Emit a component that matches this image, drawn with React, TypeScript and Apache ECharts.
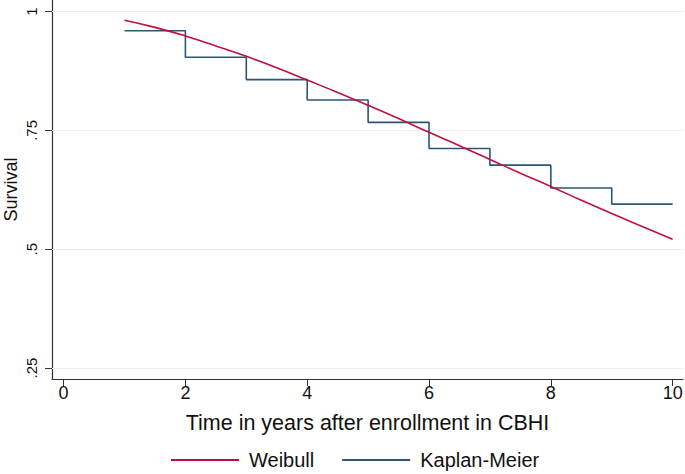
import React, { useEffect, useRef } from "react";
import * as echarts from "echarts";

const weibullTime = [1, 1.5, 2, 2.5, 3, 3.5, 4, 4.5, 5, 5.5, 6, 6.5, 7, 7.5, 8, 8.5, 9, 9.5, 10];
const weibullSurv = [0.982, 0.967, 0.949, 0.928, 0.906, 0.882, 0.856, 0.83, 0.803, 0.775, 0.746, 0.718, 0.689, 0.66, 0.632, 0.603, 0.575, 0.548, 0.521];
const kmTime = [1, 2, 3, 4, 5, 6, 7, 8, 9, 10];
const kmSurv = [0.96, 0.904, 0.857, 0.814, 0.767, 0.712, 0.677, 0.629, 0.595, 0.595];
const xTicks = [0, 2, 4, 6, 8, 10];
const yTicks = [0.25, 0.5, 0.75, 1];
const yTickLabels = [".25", ".5", ".75", "1"];
const seriesNames = ["Weibull", "Kaplan-Meier"];

const FONT = "'Liberation Sans', Arial, Helvetica, sans-serif";
const RED = "#c10f3d";
const BLUE = "#2c5577";

export default function App() {
  const ref = useRef<HTMLDivElement>(null);
  useEffect(() => {
    if (!ref.current) return;
    const chart = echarts.init(ref.current, null, { renderer: "svg" });
    chart.setOption({
      animation: false,
      backgroundColor: "#ffffff",
      textStyle: { fontFamily: FONT },
      grid: { left: 52, right: 2, top: 0, bottom: 95, containLabel: false, outerBoundsMode: "none" },
      legend: {
        left: 171,
        top: 450,
        padding: 0,
        itemWidth: 68,
        itemHeight: 2,
        itemGap: 28,
        icon: "rect",
        textStyle: { fontSize: 20, color: "#111", fontFamily: FONT, padding: [0, 0, 0, 5] },
        data: [
          { name: seriesNames[0], icon: "rect", itemStyle: { color: RED } },
          { name: seriesNames[1], icon: "rect", itemStyle: { color: BLUE } },
        ],
      },
      xAxis: {
        type: "value",
        min: -0.19,
        max: 10.17,
        name: "Time in years after enrollment in CBHI",
        nameLocation: "middle",
        nameGap: 33,
        nameMoveOverlap: false,
        nameTextStyle: { fontSize: 21.5, color: "#111", fontFamily: FONT },
        axisLine: { onZero: false, lineStyle: { color: "#333", width: 1.2 } },
        axisTick: { show: true, length: 7, customValues: xTicks, lineStyle: { color: "#333" } },
        axisLabel: {
          customValues: xTicks,
          fontSize: 18,
          color: "#111",
          margin: 5,
          fontFamily: FONT,
        },
        splitLine: { show: false },
      },
      yAxis: {
        type: "value",
        min: 0.2268,
        max: 1.0246,
        name: "Survival",
        nameLocation: "middle",
        nameGap: 32,
        nameMoveOverlap: false,
        nameTextStyle: { fontSize: 18, color: "#111", fontFamily: FONT },
        axisLine: { show: true, onZero: false, lineStyle: { color: "#333", width: 1.2 } },
        axisTick: { show: true, length: 7, customValues: yTicks, lineStyle: { color: "#333" } },
        axisLabel: {
          customValues: yTicks,
          rotate: 90,
          fontSize: 15,
          color: "#111",
          margin: 13,
          fontFamily: FONT,
          formatter: (v: number) => {
            const i = yTicks.findIndex((t) => Math.abs(t - v) < 1e-6);
            return i >= 0 ? yTickLabels[i] : "";
          },
        },
        splitLine: { show: false },
      },
      series: [
        {
          name: seriesNames[0],
          type: "line",
          smooth: true,
          symbol: "none",
          data: weibullTime.map((t, i) => [t, weibullSurv[i]]),
          lineStyle: { color: RED, width: 1.6 },
          itemStyle: { color: RED },
          z: 3,
          markLine: {
            silent: true,
            symbol: "none",
            label: { show: false },
            lineStyle: { color: "#e9eef1", width: 1.2, type: "solid" },
            data: yTicks.map((v) => ({ yAxis: v })),
            z: 1,
          },
        },
        {
          name: seriesNames[1],
          type: "line",
          step: "end",
          symbol: "none",
          data: kmTime.map((t, i) => [t, kmSurv[i]]),
          lineStyle: { color: BLUE, width: 1.6 },
          itemStyle: { color: BLUE },
          z: 2,
        },
      ],
    });
    return () => chart.dispose();
  }, []);
  return (
    <div
      ref={ref}
      style={{ position: "fixed", left: 0, top: 0, width: 685, height: 474, background: "#fff" }}
    />
  );
}
